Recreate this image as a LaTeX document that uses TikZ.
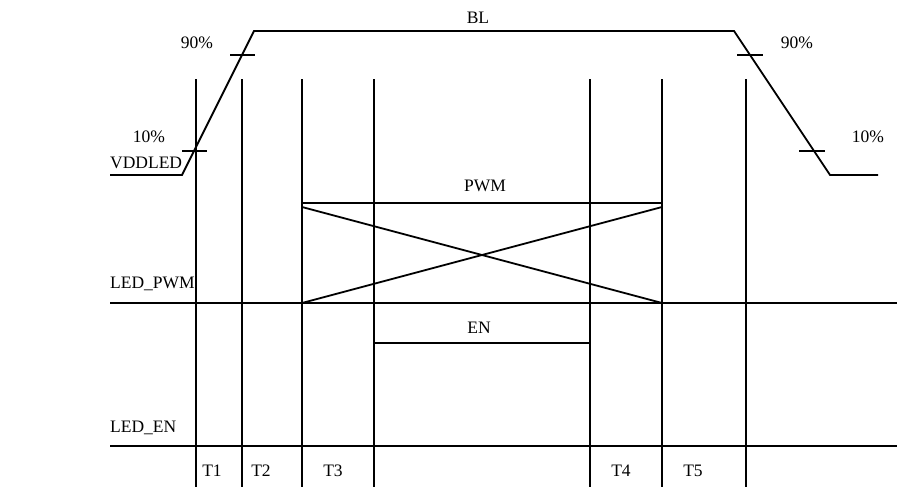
\documentclass[tikz,border=0pt]{standalone}
\usepackage{fontspec}
\setmainfont{Liberation Serif}
\begin{document}
\begin{tikzpicture}[x=1pt,y=-1pt,
  sig/.style={line width=1.8pt, line join=miter},
  lbl/.style={inner sep=0pt, font=\fontsize{17.5}{20}\selectfont},
  llbl/.style={lbl, anchor=west}]
\useasboundingbox (0,0) rectangle (897,491);
% coordinates
\coordinate (v0) at (110,175);
\coordinate (v1) at (182,175);
\coordinate (v2) at (254,31);
\coordinate (v3) at (734,31);
\coordinate (v4) at (830,175);
\coordinate (v5) at (878,175);
% VDDLED waveform
\draw[sig] (v0) -- (v1) -- (v2) -- (v3) -- (v4) -- (v5);
% ticks
\draw[sig] (230,55) -- (255,55);
\draw[sig] (182,151) -- (207,151);
\draw[sig] (737,55) -- (763,55);
\draw[sig] (799,151) -- (825,151);
% vertical markers
\foreach \x in {196,242,302,374,590,662,746}
  \draw[sig] (\x,79) -- (\x,487);
% LED_PWM
\draw[sig] (110,303) -- (897,303);
\draw[sig] (302,203) -- (663,203);
\draw[sig] (302,207) -- (662,303);
\draw[sig] (302,303) -- (662,207);
% LED_EN
\draw[sig] (110,446) -- (897,446);
\draw[sig] (374,343) -- (590,343);
% labels
\node[lbl] (bl) at (478,18) {BL};
\node[lbl] (pwm) at (485,186) {PWM};
\node[lbl] (en) at (479,328) {EN};
\node[lbl] (p90l) at (197,43) {90\%};
\node[lbl] (p10l) at (149,137) {10\%};
\node[lbl] (p90r) at (797,43) {90\%};
\node[lbl] (p10r) at (868,137) {10\%};
\node[llbl] (vdd) at (110,163) {VDDLED};
\node[llbl] (lpwm) at (110,284) {LED\_PWM};
\node[llbl] (len) at (110,428) {LED\_EN};
\node[lbl] (t1) at (212,471) {T1};
\node[lbl] (t2) at (261,471) {T2};
\node[lbl] (t3) at (333,471) {T3};
\node[lbl] (t4) at (621,471) {T4};
\node[lbl] (t5) at (693,471) {T5};
\end{tikzpicture}
\end{document}
